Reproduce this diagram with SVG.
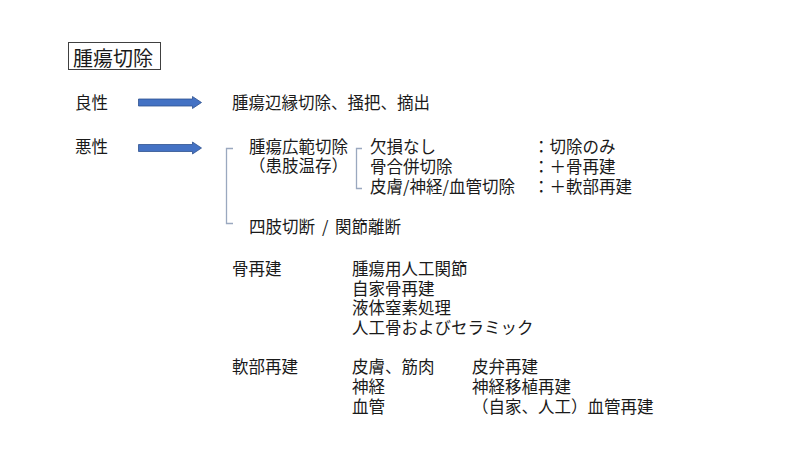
<svg xmlns="http://www.w3.org/2000/svg" width="799" height="449" viewBox="0 0 799 449">
<style>
text{font-family:"Noto Sans CJK JP","Noto Sans CJK SC",sans-serif;font-size:16.5px;fill:#1a1a1a;dominant-baseline:central}
.t{font-size:20px}
.arrow{fill:#4472C4;stroke:#2F528F;stroke-width:0.8}
.br{fill:none;stroke:#9AA8BF;stroke-width:1.3}
</style>
<rect width="799" height="449" fill="#ffffff"/>
<g id="title">
<rect x="68.5" y="42.5" width="92" height="27" fill="#ffffff" stroke="#404040" stroke-width="1"/>
<text class="t" x="73" y="57">腫瘍切除</text>
</g>
<g id="benign">
<text x="75" y="102">良性</text>
</g>
<g id="benign-result">
<text x="232" y="102">腫瘍辺縁切除、掻把、摘出</text>
</g>
<g id="malignant">
<text x="75" y="146">悪性</text>
</g>
<g id="limb-salvage">
<text x="249" y="146">腫瘍広範切除</text>
<text x="249" y="165">（患肢温存）</text>
</g>
<g id="defects">
<text x="370" y="146">欠損なし</text>
<text x="370" y="166">骨合併切除</text>
<text x="370" y="186">皮膚/神経/血管切除</text>
</g>
<g id="treatments">
<text x="533" y="146">：切除のみ</text>
<text x="533" y="166">：＋骨再建</text>
<text x="533" y="186">：＋軟部再建</text>
</g>
<g id="amputation">
<text x="249" y="226">四肢切断<tspan x="322">/</tspan><tspan x="335">関節離断</tspan></text>
</g>
<g id="bone-recon">
<text x="232" y="268">骨再建</text>
<text x="352" y="268">腫瘍用人工関節</text>
<text x="352" y="287.5">自家骨再建</text>
<text x="352" y="307">液体窒素処理</text>
<text x="352" y="326.5">人工骨およびセラミック</text>
</g>
<g id="soft-recon">
<text x="232" y="366">軟部再建</text>
<text x="352" y="366">皮膚、筋肉</text>
<text x="352" y="386">神経</text>
<text x="352" y="406">血管</text>
<text x="472" y="366">皮弁再建</text>
<text x="472" y="386">神経移植再建</text>
<text x="472" y="406">（自家、人工）血管再建</text>
</g>
<g id="connectors">
<path class="arrow" d="M138.5,99 H192.5 V96.5 L201.5,102.5 L192.5,108.5 V106 H138.5 Z"/>
<path class="arrow" d="M138.5,144.5 H192.5 V142 L201.5,148 L192.5,154 V151.5 H138.5 Z"/>
<path class="br" d="M233,148.5 H226.5 V223.5 H233"/>
<path class="br" d="M362,148.5 H356.5 V188.5 H362"/>
</g>
</svg>
